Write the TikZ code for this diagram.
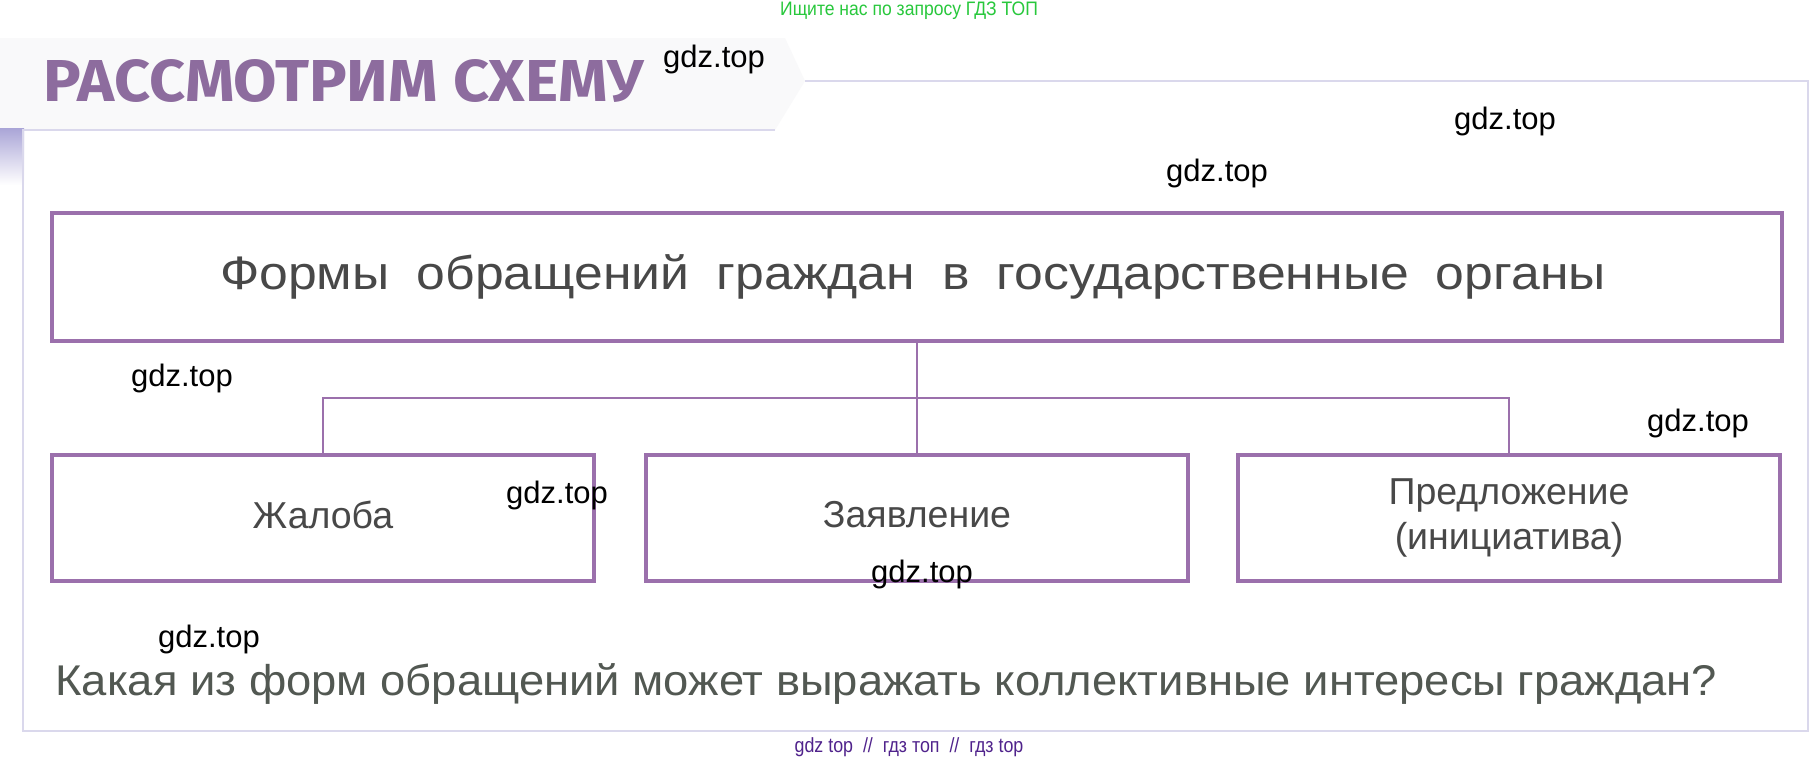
\documentclass[tikz,border=0pt]{standalone}
\usepackage{fontspec}
\setmainfont{Liberation Sans}
\newfontfamily\titlefont{Fira Sans}
\definecolor{titlec}{RGB}{141,108,158}
\definecolor{boxc}{RGB}{155,112,172}
\definecolor{txt}{RGB}{72,72,72}
\definecolor{qtxt}{RGB}{82,88,82}
\definecolor{greenc}{RGB}{40,200,60}
\definecolor{bottomc}{RGB}{80,35,140}
\definecolor{framec}{RGB}{218,216,236}
\definecolor{tabc}{RGB}{170,165,215}
\definecolor{bannerc}{RGB}{249,249,250}
\begin{document}
\begin{tikzpicture}[x=0.5pt,y=-0.5pt,
  box/.style={draw=boxc, line width=1.75pt, minimum width=271pt, minimum height=63pt,
    inner sep=0pt, text=txt, align=center, font=\fontsize{18.75}{22.5}\selectfont},
  conn/.style={draw=boxc, line width=1.25pt},
  wm/.style={inner sep=0pt, font=\fontsize{15.5}{18}\selectfont, text=black}]
\useasboundingbox (0,0) rectangle (1820,761);
\fill[white] (0,0) rectangle (1820,761);
% faint banner behind the title
\fill[bannerc] (0,38) -- (785,38) -- (805,81) -- (775,130) -- (0,130) -- cycle;
\shade[top color=tabc, bottom color=white] (0,128) rectangle (24,185);
% outer frame
\draw[framec, line width=0.75pt] (805,81) -- (1808,81) -- (1808,731) -- (23,731) -- (23,130) -- (775,130);
% top green line
\node[inner sep=0pt, text=greenc, font=\fontsize{9.75}{12}\selectfont] (top) at (909,11)
  {\scalebox{0.9}[1]{Ищите нас по запросу ГДЗ ТОП}};
% title
\node[inner sep=0pt, text=titlec] (title) at (344,81)
  {\resizebox{300pt}{21pt}{\titlefont\bfseries РАССМОТРИМ СХЕМУ}};
% main box
\node[box, minimum width=865pt, minimum height=64pt, font=\fontsize{23.5}{28}\selectfont] (main) at (917,277)
  {\hspace*{-4pt}\scalebox{1.1}[1]{\spaceskip=12.3pt Формы обращений граждан в государственные органы}};
% three boxes
\node[box] (left) at (323,518) {\raisebox{3.5pt}{Жалоба}};
\node[box] (mid) at (917,518) {\raisebox{3.5pt}{Заявление}};
\node[box] (right) at (1509,518) {Предложение\\(инициатива)};
% connectors
\coordinate (bar) at (917,398);
\draw[conn] (main.south) -- (bar);
\draw[conn] (left.north) |- (bar) -| (right.north);
\draw[conn] (bar) -- (mid.north);
% question
\node[inner sep=0pt, text=qtxt, font=\fontsize{21.5}{25}\selectfont, anchor=west] (q) at (55,684)
  {\scalebox{1.055}[1]{Какая из форм обращений может выражать коллективные интересы граждан?}};
% bottom line
\node[inner sep=0pt, text=bottomc, font=\fontsize{10.25}{12}\selectfont] (bot) at (909,747)
  {\scalebox{0.87}[1]{gdz top\ \ //\ \ гдз топ\ \ //\ \ гдз top}};
% watermarks
\node[wm] (w1) at (714,59) {gdz.top};
\node[wm] (w2) at (1505,121) {gdz.top};
\node[wm] (w3) at (1217,173) {gdz.top};
\node[wm] (w4) at (182,378) {gdz.top};
\node[wm] (w5) at (557,495) {gdz.top};
\node[wm] (w6) at (1698,423) {gdz.top};
\node[wm] (w7) at (922,574) {gdz.top};
\node[wm] (w8) at (209,639) {gdz.top};
\end{tikzpicture}
\end{document}
